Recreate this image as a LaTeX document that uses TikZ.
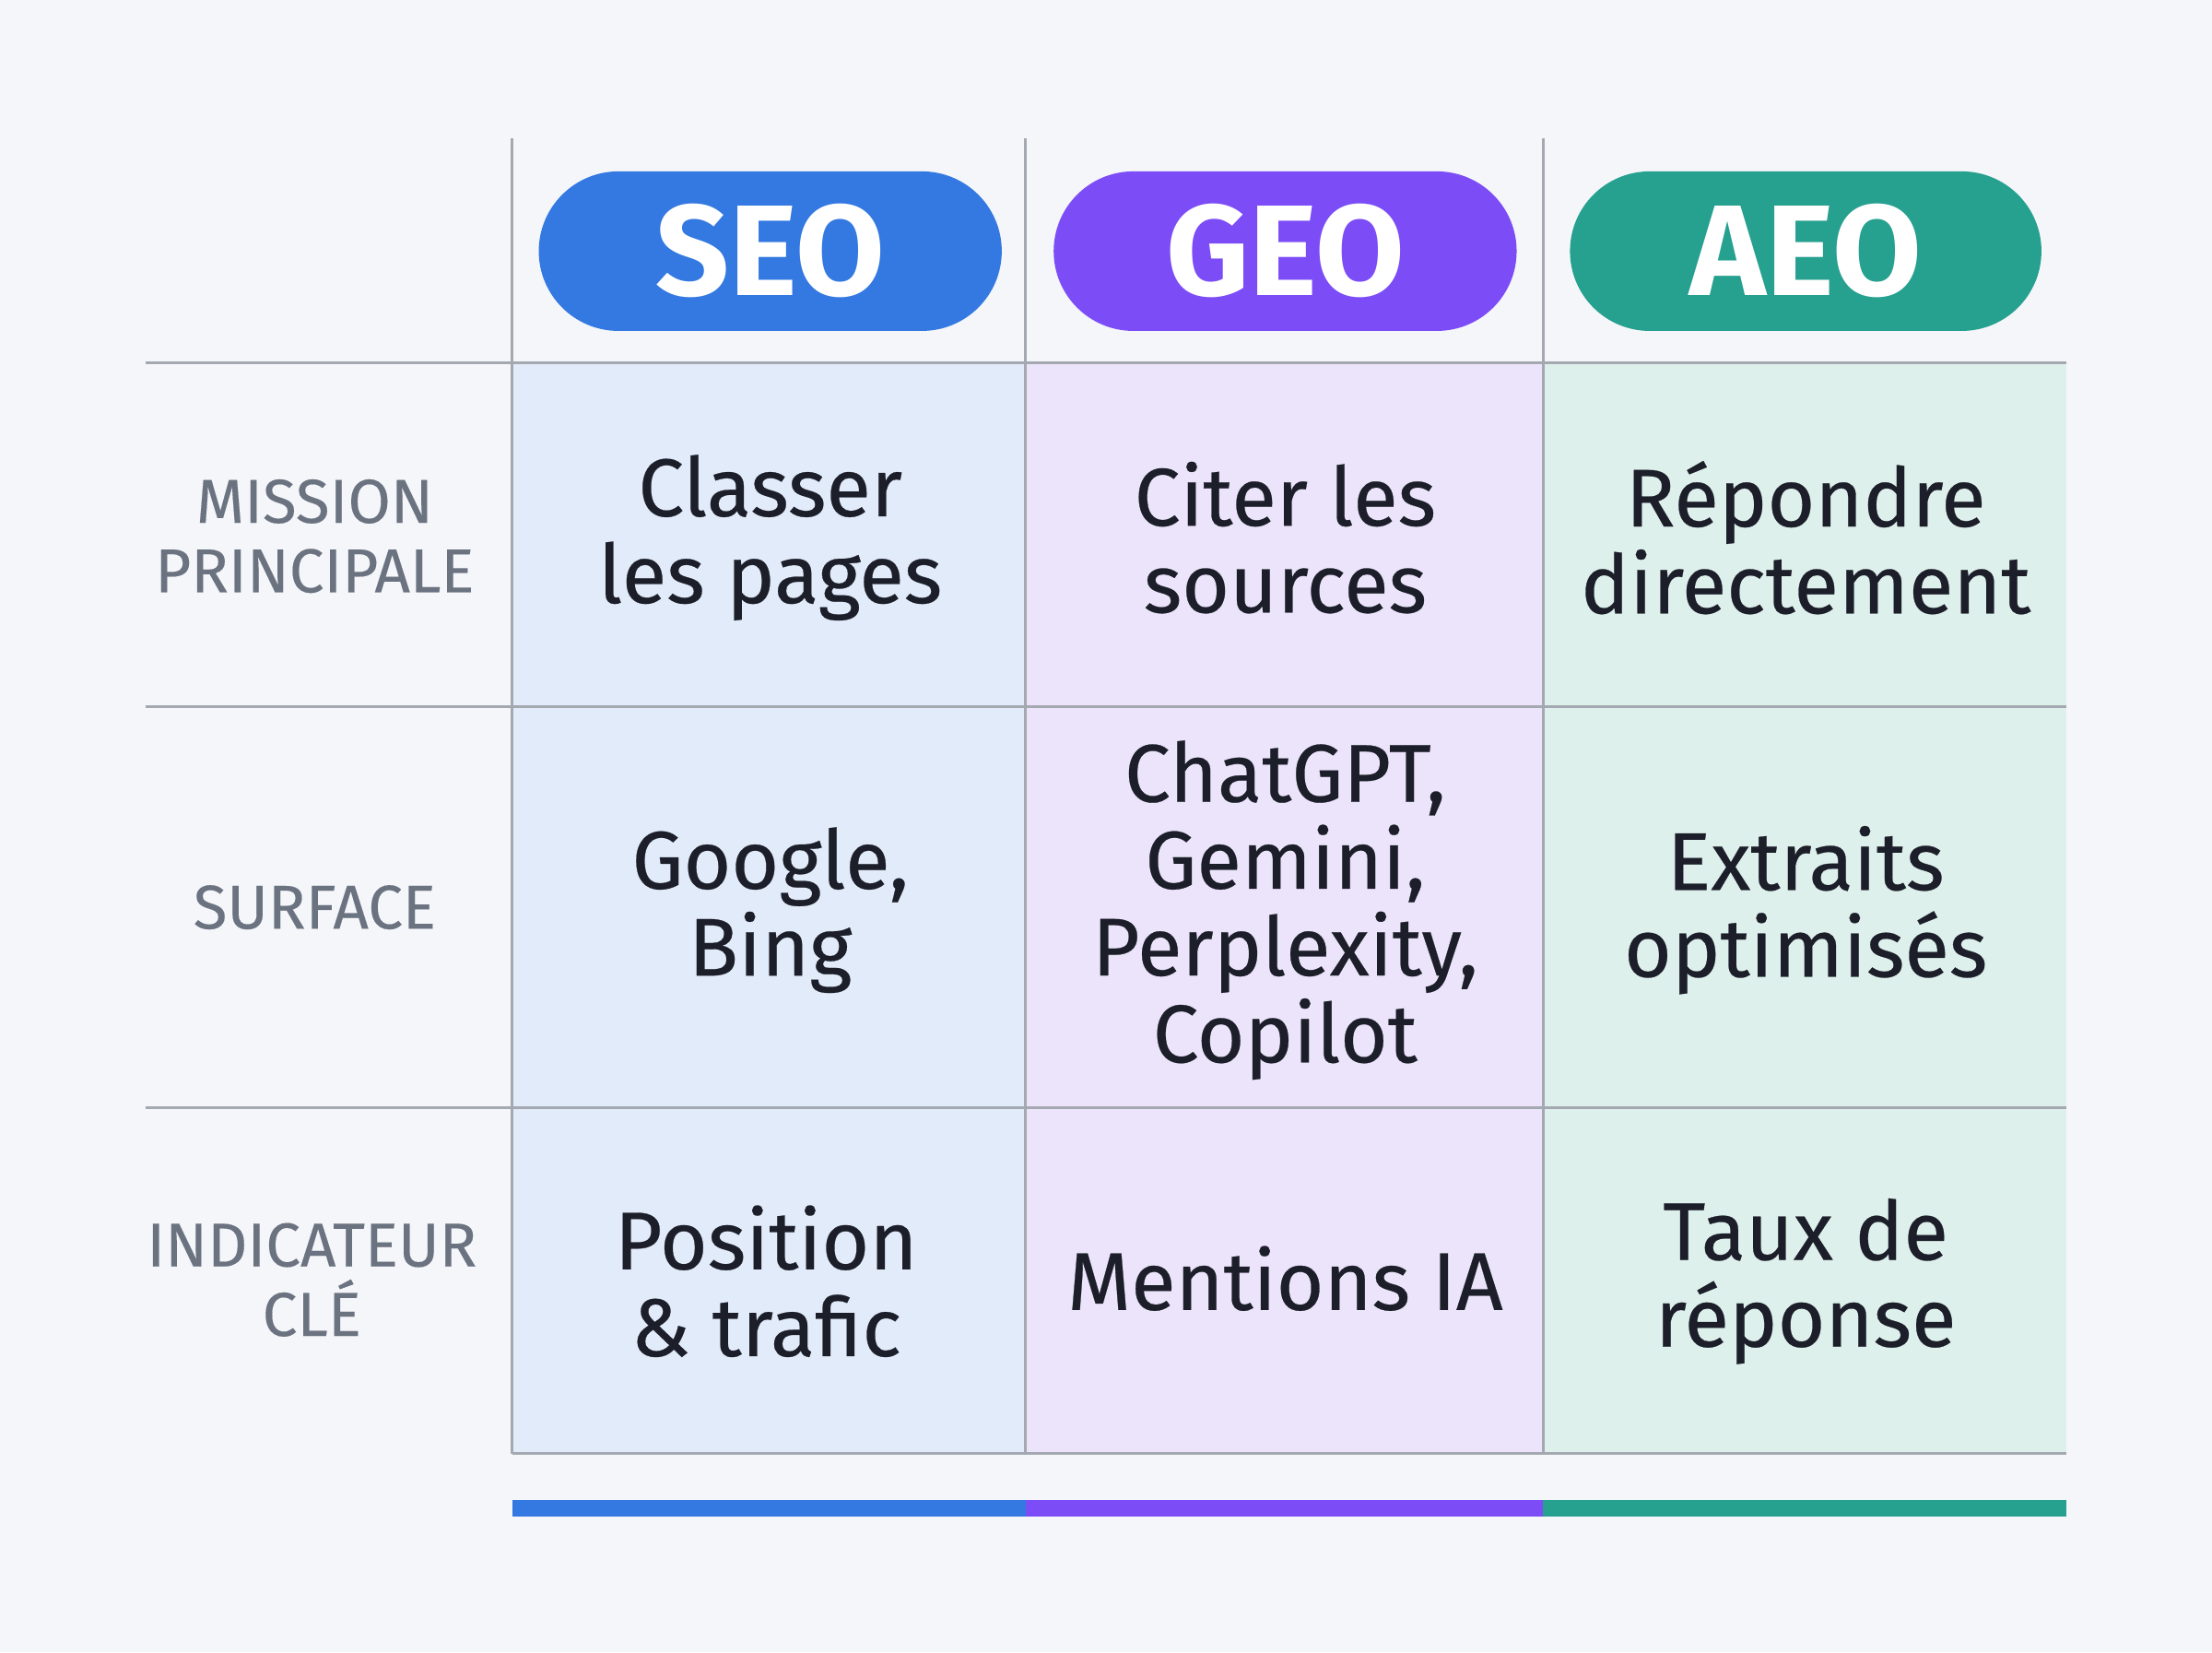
\documentclass[tikz,border=0pt]{standalone}
\usepackage{fontspec}
\setmainfont{Fira Sans}
\usetikzlibrary{positioning}
\definecolor{bgcol}{HTML}{F4F6FA}
\definecolor{seocol}{HTML}{3479E1}
\definecolor{geocol}{HTML}{7C4DF6}
\definecolor{aeocol}{HTML}{26A08F}
\definecolor{seofill}{HTML}{E2EBFA}
\definecolor{geofill}{HTML}{ECE4FA}
\definecolor{aeofill}{HTML}{DEF0EC}
\definecolor{gridcol}{HTML}{A4A8B0}
\definecolor{labcol}{HTML}{6B7280}
\definecolor{txtcol}{HTML}{1C1F2A}
\tikzset{
	pill/.style={rounded corners=0.565cm, minimum width=3.28cm, minimum height=1.13cm, text=white, font=\fontsize{26}{28}\selectfont\bfseries},
	celltext/.style={text=txtcol, align=center, font=\fontsize{16.5}{17.5}\selectfont\addfontfeatures{FakeBold=0.3}},
	rowlabel/.style={text=labcol, align=center, font=\fontsize{12.5}{14}\selectfont\addfontfeatures{FakeBold=0.2}},
	gridline/.style={draw=gridcol, line width=0.6pt}
}
\begin{document}
\begin{tikzpicture}[x=0.01cm,y=-0.01cm]
	\fill[bgcol] (0,0) rectangle (1568,1171);
	% column fills
	\fill[seofill] (363,257) rectangle (727,1030);
	\fill[geofill] (727,257) rectangle (1094,1030);
	\fill[aeofill] (1094,257) rectangle (1465,1030);
	% grid
	\foreach \y in {257,501,785} \draw[gridline] (103,\y) -- (1465,\y);
	\draw[gridline] (363,1030) -- (1465,1030);
	\foreach \x in {363,727,1094} \draw[gridline] (\x,98) -- (\x,1030);
	% headers
	\node[pill, fill=seocol] (seo) at (546,178) {SEO};
	\node[pill, fill=geocol] (geo) at (911,178) {GEO};
	\node[pill, fill=aeocol, minimum width=3.34cm] (aeo) at (1280,178) {AEO};
	% row labels
	\node[rowlabel] (mission) at (223,380) {MISSION\\PRINCIPALE};
	\node[rowlabel] (surface) at (223,643) {SURFACE};
	\node[rowlabel] (kpi) at (221,907) {INDICATEUR\\CLÉ};
	% cells
	\node[celltext] (seomission) at (546,381) {Classer\\les pages};
	\node[celltext] (geomission) at (911,381) {Citer les\\sources};
	\node[celltext] (aeomission) at (1280,381) {Répondre\\directement};
	\node[celltext] (seosurface) at (546,645) {Google,\\Bing};
	\node[celltext] (geosurface) at (911,645) {ChatGPT,\\Gemini,\\Perplexity,\\Copilot};
	\node[celltext] (aeosurface) at (1280,645) {Extraits\\optimisés};
	\node[celltext] (seokpi) at (543,908) {Position\\\& trafic};
	\node[celltext] (geokpi) at (911,906) {Mentions IA};
	\node[celltext] (aeokpi) at (1280,908) {Taux de\\réponse};
	% bottom bars
	\fill[seocol] (363,1063) rectangle (727,1075);
	\fill[geocol] (727,1063) rectangle (1094,1075);
	\fill[aeocol] (1094,1063) rectangle (1465,1075);
\end{tikzpicture}
\end{document}
